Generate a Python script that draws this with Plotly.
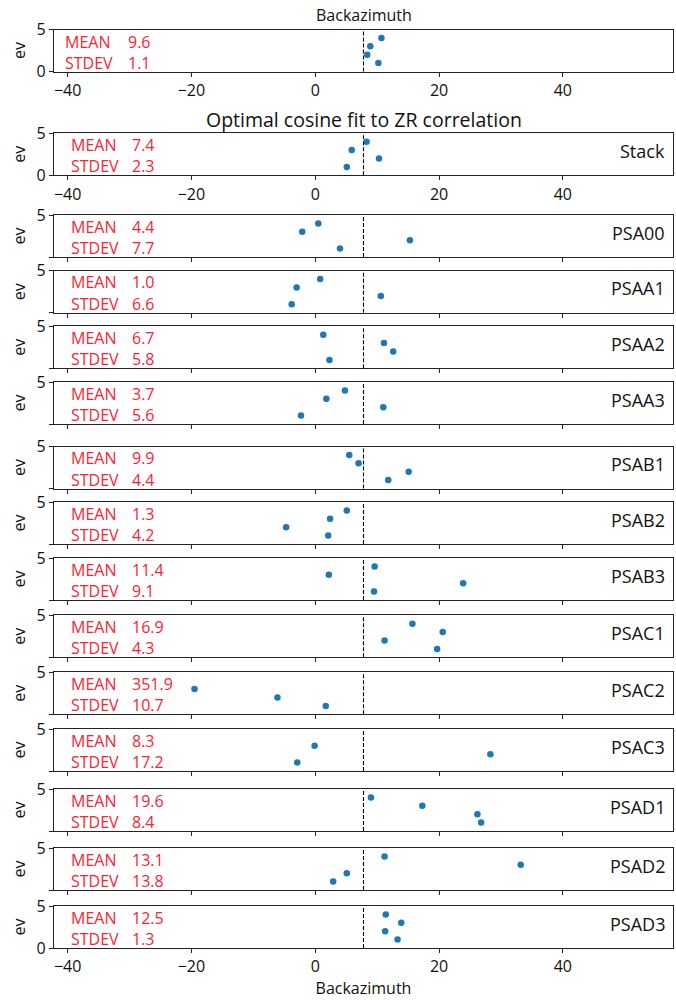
import plotly.graph_objects as go

# ---------------- data ----------------
panel_names = ["", "Stack", "PSA00", "PSAA1", "PSAA2", "PSAA3", "PSAB1", "PSAB2",
               "PSAB3", "PSAC1", "PSAC2", "PSAC3", "PSAD1", "PSAD2", "PSAD3"]

baz_x = [10.7, 8.9, 8.4, 10.2]
stack_x = [8.3, 5.9, 10.3, 5.1]
psa00_x = [0.5, -2.1, 15.3, 4.0]
psaa1_x = [0.8, -3.0, 10.6, -3.8]
psaa2_x = [1.3, 11.1, 12.6, 2.3]
psaa3_x = [4.8, 1.8, 11.0, -2.3]
psab1_x = [5.5, 7.0, 15.1, 11.8]
psab2_x = [5.1, 2.4, -4.7, 2.1]
psab3_x = [9.6, 2.2, 23.9, 9.5]
psac1_x = [15.7, 20.6, 11.2, 19.7]
psac2_x = [-19.5, -6.1, 1.7]
psac3_x = [-0.1, 28.3, -2.9]
psad1_x = [9.0, 17.3, 26.2, 26.8]
psad2_x = [11.2, 33.2, 5.1, 2.9]
psad3_x = [11.4, 13.9, 11.3, 13.3]

ev4 = [4, 3, 2, 1]
ev3 = [3, 2, 1]

panel_x = [baz_x, stack_x, psa00_x, psaa1_x, psaa2_x, psaa3_x, psab1_x, psab2_x,
           psab3_x, psac1_x, psac2_x, psac3_x, psad1_x, psad2_x, psad3_x]
panel_y = [ev4, ev4, ev4, ev4, ev4, ev4, ev4, ev4, ev4, ev4, ev3, ev3, ev4, ev4, ev4]

means = ["9.6", "7.4", "4.4", "1.0", "6.7", "3.7", "9.9", "1.3", "11.4", "16.9",
         "351.9", "8.3", "19.6", "13.1", "12.5"]
stdevs = ["1.1", "2.3", "7.7", "6.6", "5.8", "5.6", "4.4", "4.2", "9.1", "4.3",
          "10.7", "17.2", "8.4", "13.8", "1.3"]

ref_baz = 7.8
x_range = [ref_baz - 50, ref_baz + 50]
y_range = [0, 5]
x_ticks = [-40, -20, 0, 20, 40]

# panel pixel boxes (top, bottom)
tops = [29.5, 133.3, 215, 270.7, 326.3, 382, 446.5, 502, 558, 615.3, 672.3, 729, 789, 848, 906]
PANEL_H = 42

W, H = 676, 1000
FONT = "Open Sans"
RED = "rgb(250,35,50)"
INK = "#111"

fig = go.Figure()
shapes = []
annotations = []
layout = {}

n = len(panel_names)
for i in range(n):
    k = "" if i == 0 else str(i + 1)
    xa, ya = "x" + k, "y" + k
    fig.add_trace(go.Scatter(
        x=panel_x[i], y=panel_y[i], mode="markers",
        marker=dict(color="#1f77b4", size=6.5),
        xaxis=xa, yaxis=ya, showlegend=False, hoverinfo="skip"))
    top, bot = tops[i], tops[i] + PANEL_H
    show_xlab = i in (0, 1, n - 1)
    layout["xaxis" + k] = dict(
        domain=[0, 1], anchor=ya, range=x_range,
        tickvals=x_ticks, showticklabels=show_xlab,
        ticks="outside", ticklen=4, tickwidth=1, tickcolor="#222",
        showgrid=False, zeroline=False, automargin=False,
        showline=True, linecolor="#222", linewidth=1.2, mirror=True,
        tickfont=dict(family=FONT, size=16, color=INK),
        title=dict(text="Backazimuth" if i == n - 1 else "",
                   font=dict(family=FONT, size=16, color=INK), standoff=4),
    )
    yticktext = ["0", "5"] if i in (0, 1, n - 1) else ["", "5"]
    layout["yaxis" + k] = dict(
        domain=[1 - bot / H, 1 - top / H], anchor=xa, range=y_range,
        tickvals=[0, 5], ticktext=yticktext,
        ticks="outside", ticklen=4, tickwidth=1, tickcolor="#222",
        showgrid=False, zeroline=False, automargin=False,
        showline=True, linecolor="#222", linewidth=1.2, mirror=True,
        tickfont=dict(family=FONT, size=16, color=INK),
        title=dict(text="ev", font=dict(family=FONT, size=16, color=INK), standoff=6),
    )
    shapes.append(dict(type="line", xref=xa, yref=ya + " domain",
                       x0=ref_baz, x1=ref_baz, y0=0, y1=1,
                       line=dict(color="black", width=1.1, dash="4px,2px")))
    lx = 0.0146 if i == 0 else 0.0245
    vx = 0.116 if i == 0 else 0.122
    my = 0.70 if i == 0 else 0.72
    sy = 0.20 if i == 0 else 0.21
    for txt, xx, yy in (("MEAN", lx, my), (means[i], vx, my),
                        ("STDEV", lx, sy), (stdevs[i], vx, sy)):
        annotations.append(dict(text=txt, xref=xa + " domain", yref=ya + " domain",
                                x=xx, y=yy, xanchor="left", yanchor="middle",
                                showarrow=False,
                                font=dict(family=FONT, size=16, color=RED)))
    if panel_names[i]:
        annotations.append(dict(text=panel_names[i], xref=xa + " domain", yref=ya + " domain",
                                x=0.991, y=0.58, xanchor="right", yanchor="middle",
                                showarrow=False,
                                font=dict(family=FONT, size=18, color=INK)))

# titles
annotations.append(dict(text="Backazimuth", xref="x domain", yref="paper",
                        x=0.5, y=1 - 15 / H, xanchor="center", yanchor="middle",
                        showarrow=False, font=dict(family=FONT, size=16, color=INK)))
annotations.append(dict(text="Optimal cosine fit to ZR correlation", xref="x2 domain", yref="paper",
                        x=0.5, y=1 - 119 / H, xanchor="center", yanchor="middle",
                        showarrow=False, font=dict(family=FONT, size=19.5, color=INK)))

fig.update_layout(
    width=W, height=H,
    margin=dict(l=54, r=3, t=0, b=0, pad=0, autoexpand=False),
    paper_bgcolor="white", plot_bgcolor="white",
    shapes=shapes, annotations=annotations,
    font=dict(family=FONT, color=INK),
    **layout,
)

fig.write_html("out.html")
